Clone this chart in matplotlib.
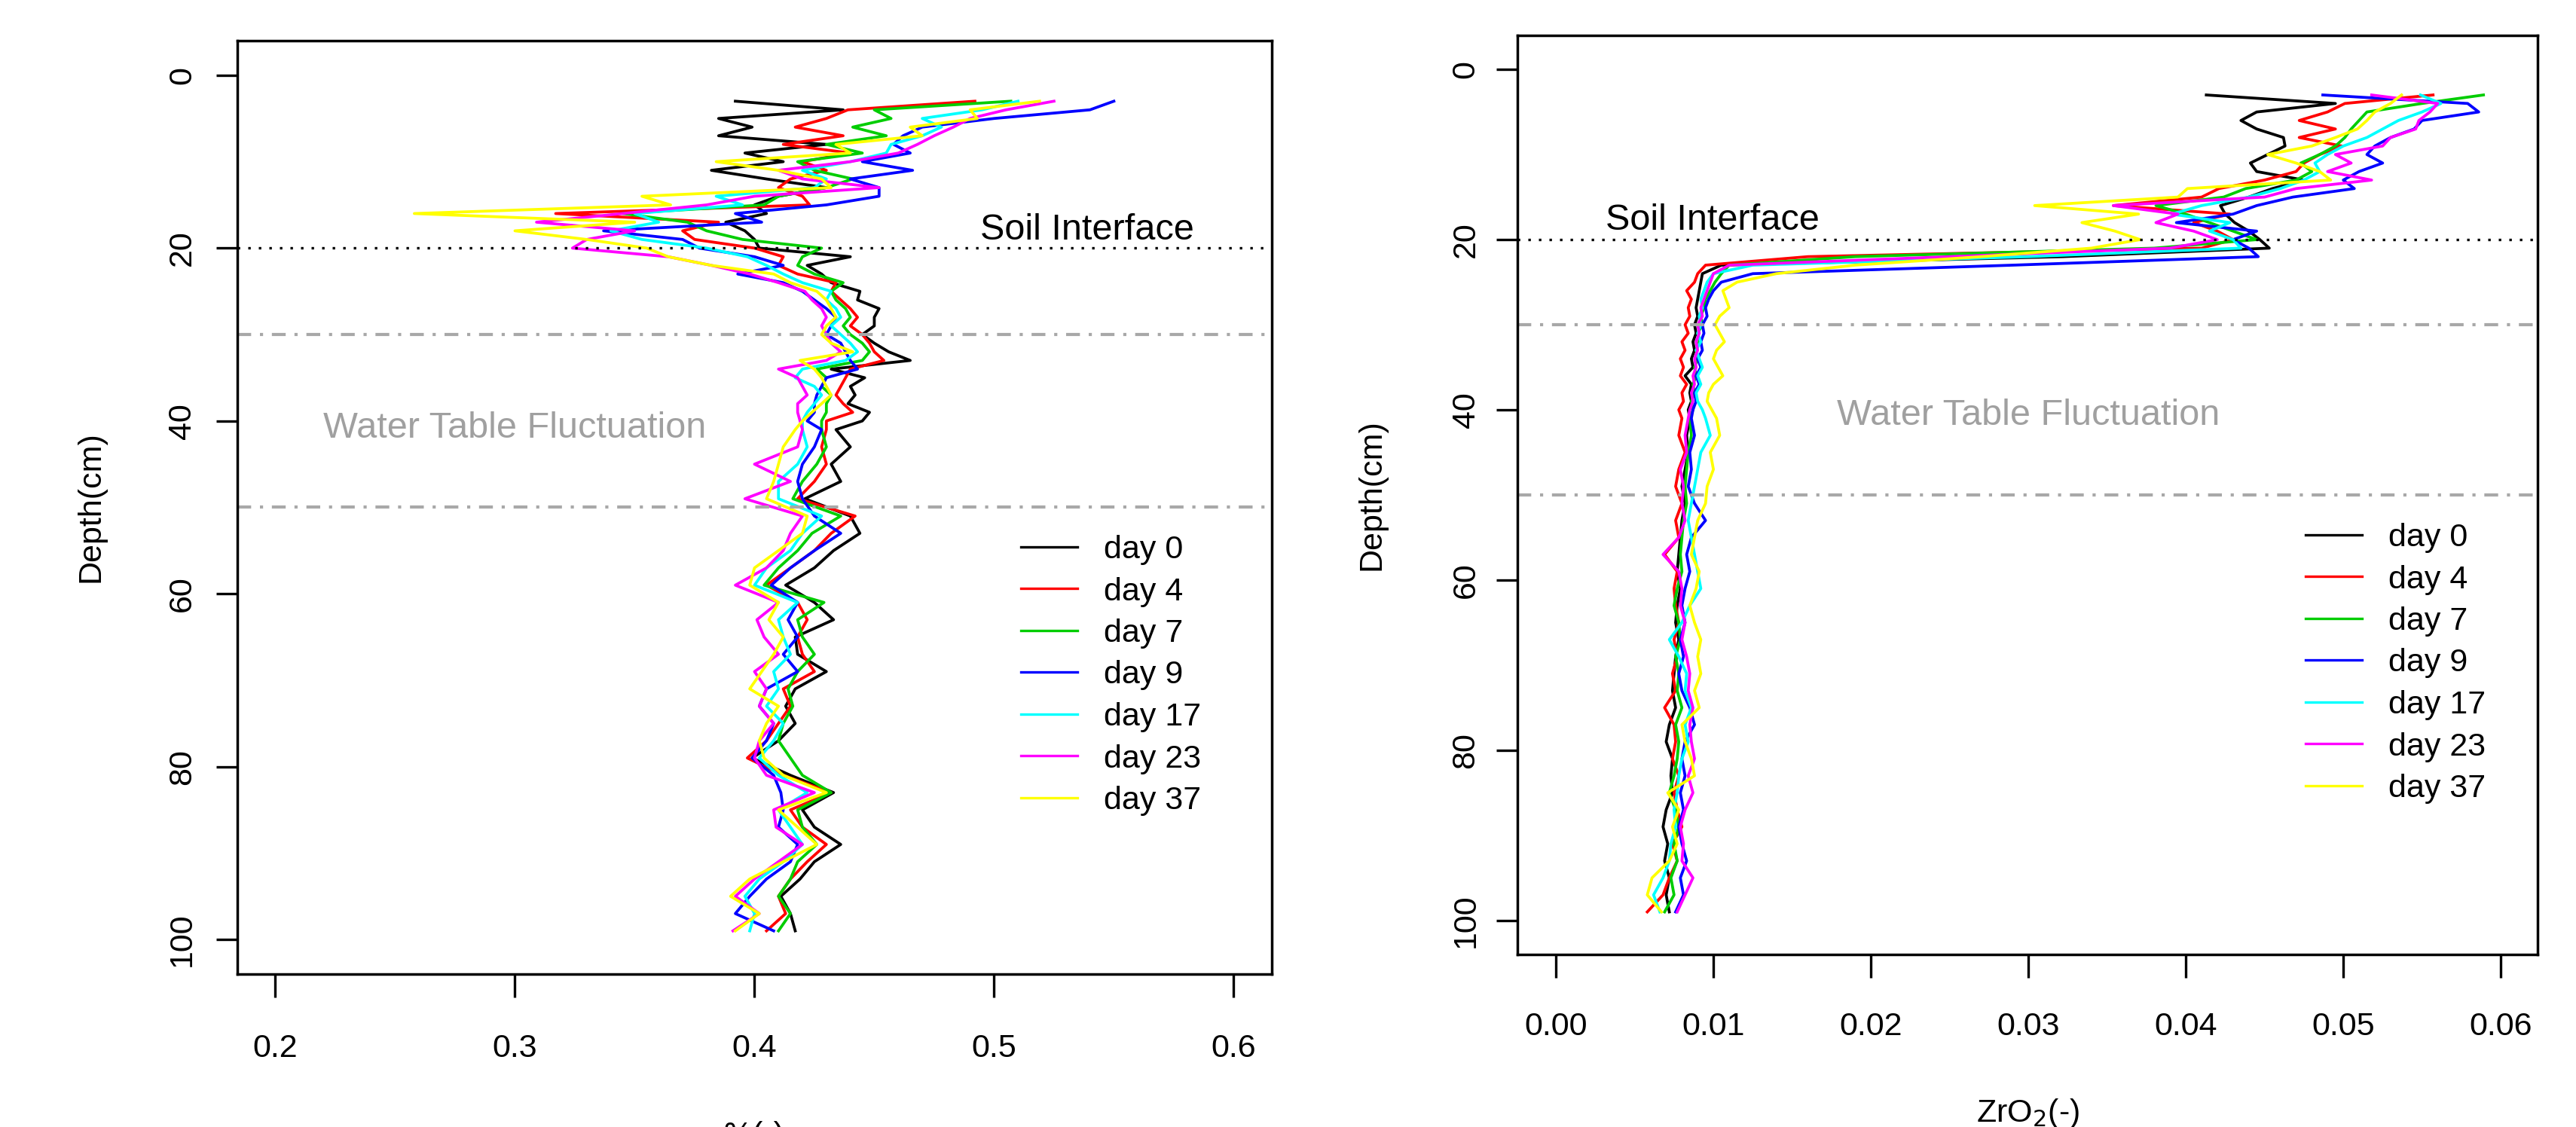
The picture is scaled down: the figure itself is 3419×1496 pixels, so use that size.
import matplotlib
matplotlib.use('Agg')
import matplotlib.pyplot as plt
from matplotlib.lines import Line2D

# depth profiles of soil moisture (left) and ZrO2 tracer (right) for several days

plt.rcParams['font.family'] = ['Liberation Sans', 'DejaVu Sans']

# depth grid (cm): 1 cm steps near the top, 2 cm below 40 cm
depth = [3, 4, 5, 6, 7, 8, 9, 10, 11, 12, 13, 14, 15, 16, 17, 18, 19, 20, 21, 22,
         23, 24, 25, 26, 27, 28, 29, 30, 31, 32, 33, 34, 35, 36, 37, 38, 39, 40,
         41, 43, 45, 47, 49, 51, 53, 55, 57, 59, 61, 63, 65, 67, 69, 71, 73, 75,
         77, 79, 81, 83, 85, 87, 89, 91, 93, 95, 97, 99]

days = ['day 0', 'day 4', 'day 7', 'day 9', 'day 17', 'day 23', 'day 37']
colours = ['black', '#FF0000', '#00CD00', '#0000FF', '#00FFFF', '#FF00FF', '#FFFF00']

# left panel: %(-)
moist_day0 = [0.392, 0.437, 0.385, 0.399, 0.385, 0.430, 0.396, 0.412, 0.382, 0.405, 0.430, 0.410, 0.400,
              0.405, 0.388, 0.396, 0.400, 0.402, 0.440, 0.422, 0.428, 0.432, 0.444, 0.443, 0.452, 0.450,
              0.450, 0.445, 0.450, 0.456, 0.465, 0.432, 0.446, 0.440, 0.442, 0.439, 0.448, 0.445,
              0.434, 0.440, 0.432, 0.436, 0.421, 0.440, 0.444, 0.433, 0.425, 0.413, 0.425, 0.433, 0.417,
              0.418, 0.430, 0.417, 0.413, 0.417, 0.410, 0.399, 0.415, 0.433, 0.420, 0.425, 0.436, 0.425,
              0.419, 0.411, 0.415, 0.417]
moist_day4 = [0.492, 0.439, 0.430, 0.417, 0.437, 0.412, 0.440, 0.420, 0.430, 0.415, 0.410, 0.420, 0.423,
              0.317, 0.385, 0.370, 0.375, 0.400, 0.412, 0.410, 0.418, 0.434, 0.432, 0.436, 0.440, 0.443,
              0.440, 0.445, 0.448, 0.450, 0.454, 0.440, 0.438, 0.436, 0.434, 0.437, 0.441, 0.430,
              0.430, 0.428, 0.430, 0.425, 0.418, 0.442, 0.432, 0.425, 0.415, 0.405, 0.418, 0.422, 0.418,
              0.420, 0.425, 0.412, 0.415, 0.410, 0.405, 0.397, 0.412, 0.432, 0.415, 0.420, 0.430, 0.422,
              0.415, 0.410, 0.413, 0.405]
moist_day7 = [0.507, 0.450, 0.457, 0.441, 0.455, 0.430, 0.445, 0.418, 0.425, 0.441, 0.430, 0.410, 0.404,
              0.345, 0.372, 0.380, 0.395, 0.428, 0.420, 0.418, 0.425, 0.437, 0.432, 0.434, 0.438, 0.440,
              0.437, 0.440, 0.445, 0.448, 0.445, 0.426, 0.430, 0.428, 0.432, 0.430, 0.430, 0.428,
              0.428, 0.430, 0.426, 0.420, 0.416, 0.436, 0.424, 0.418, 0.410, 0.404, 0.429, 0.418, 0.420,
              0.425, 0.418, 0.414, 0.416, 0.412, 0.410, 0.415, 0.420, 0.432, 0.418, 0.420, 0.426, 0.418,
              0.415, 0.410, 0.415, 0.410]
moist_day9 = [0.550, 0.540, 0.500, 0.470, 0.462, 0.458, 0.465, 0.445, 0.466, 0.440, 0.452, 0.452, 0.430,
              0.392, 0.403, 0.337, 0.370, 0.377, 0.400, 0.412, 0.393, 0.412, 0.420, 0.425, 0.430, 0.434,
              0.432, 0.430, 0.436, 0.438, 0.440, 0.443, 0.430, 0.428, 0.426, 0.425, 0.425, 0.422,
              0.428, 0.425, 0.420, 0.418, 0.420, 0.425, 0.436, 0.425, 0.415, 0.407, 0.418, 0.414, 0.418,
              0.412, 0.418, 0.405, 0.402, 0.408, 0.405, 0.399, 0.408, 0.411, 0.412, 0.410, 0.418, 0.415,
              0.405, 0.398, 0.392, 0.408]
moist_day17 = [0.510, 0.495, 0.470, 0.478, 0.470, 0.457, 0.455, 0.440, 0.420, 0.430, 0.425, 0.384, 0.395,
               0.350, 0.360, 0.340, 0.353, 0.380, 0.397, 0.405, 0.412, 0.420, 0.432, 0.430, 0.434, 0.436,
               0.432, 0.436, 0.440, 0.443, 0.438, 0.420, 0.417, 0.425, 0.428, 0.425, 0.422, 0.420,
               0.420, 0.422, 0.418, 0.410, 0.410, 0.428, 0.420, 0.415, 0.405, 0.400, 0.418, 0.410, 0.412,
               0.415, 0.408, 0.410, 0.405, 0.412, 0.408, 0.402, 0.410, 0.422, 0.410, 0.415, 0.420, 0.412,
               0.402, 0.396, 0.400, 0.398]
moist_day23 = [0.525, 0.505, 0.490, 0.483, 0.475, 0.468, 0.460, 0.440, 0.410, 0.420, 0.452, 0.400, 0.380,
               0.345, 0.309, 0.350, 0.330, 0.324, 0.364, 0.382, 0.398, 0.410, 0.421, 0.424, 0.428, 0.430,
               0.428, 0.430, 0.432, 0.436, 0.430, 0.410, 0.418, 0.420, 0.422, 0.418, 0.418, 0.419,
               0.420, 0.418, 0.400, 0.415, 0.396, 0.420, 0.415, 0.412, 0.405, 0.392, 0.410, 0.401, 0.404,
               0.410, 0.400, 0.405, 0.402, 0.408, 0.402, 0.400, 0.405, 0.425, 0.408, 0.409, 0.420, 0.410,
               0.400, 0.392, 0.402, 0.391]
moist_day37 = [0.519, 0.490, 0.493, 0.465, 0.470, 0.434, 0.440, 0.384, 0.410, 0.428, 0.432, 0.353, 0.365,
               0.258, 0.350, 0.300, 0.330, 0.355, 0.364, 0.382, 0.408, 0.415, 0.426, 0.430, 0.432, 0.434,
               0.430, 0.428, 0.432, 0.441, 0.419, 0.425, 0.428, 0.430, 0.432, 0.428, 0.424, 0.420,
               0.417, 0.412, 0.410, 0.408, 0.405, 0.422, 0.420, 0.410, 0.400, 0.398, 0.410, 0.406, 0.412,
               0.408, 0.403, 0.398, 0.410, 0.405, 0.402, 0.404, 0.412, 0.430, 0.410, 0.418, 0.426, 0.412,
               0.398, 0.390, 0.402, 0.392]

# right panel: ZrO2(-)
zr_day0 = [0.0413, 0.0495, 0.0445, 0.0435, 0.0445, 0.0462, 0.0463, 0.0452, 0.0441, 0.0445, 0.0475, 0.0455,
           0.0440, 0.0422, 0.0425, 0.0431, 0.0440, 0.0447, 0.0453, 0.0322, 0.0105, 0.0093, 0.0092, 0.0091,
           0.0090, 0.0089, 0.0090, 0.0088, 0.0089, 0.0087, 0.0088, 0.0086, 0.0087, 0.0082, 0.0086, 0.0085,
           0.0086, 0.0084,
           0.0085, 0.0083, 0.0084, 0.0082, 0.0080, 0.0082, 0.0080, 0.0079, 0.0078, 0.0077, 0.0079, 0.0077,
           0.0076, 0.0078, 0.0076, 0.0075, 0.0074, 0.0076, 0.0072, 0.0070, 0.0074, 0.0073, 0.0074, 0.0070,
           0.0068, 0.0071, 0.0069, 0.0072, 0.0070, 0.0072]
zr_day4 = [0.0557, 0.0501, 0.0490, 0.0472, 0.0495, 0.0472, 0.0499, 0.0485, 0.0475, 0.0470, 0.0450, 0.0421,
           0.0410, 0.0354, 0.0428, 0.0405, 0.0420, 0.0430, 0.0410, 0.0160, 0.0095, 0.0090, 0.0088, 0.0083,
           0.0086, 0.0084, 0.0085, 0.0082, 0.0084, 0.0080, 0.0082, 0.0079, 0.0081, 0.0079, 0.0083, 0.0080,
           0.0081, 0.0078,
           0.0080, 0.0078, 0.0082, 0.0078, 0.0076, 0.0080, 0.0076, 0.0078, 0.0069, 0.0077, 0.0075, 0.0076,
           0.0078, 0.0075, 0.0077, 0.0074, 0.0076, 0.0069, 0.0075, 0.0076, 0.0074, 0.0078, 0.0075, 0.0077,
           0.0080, 0.0074, 0.0077, 0.0072, 0.0068, 0.0058]
zr_day7 = [0.0589, 0.0550, 0.0515, 0.0510, 0.0505, 0.0501, 0.0495, 0.0485, 0.0473, 0.0480, 0.0470, 0.0438,
           0.0424, 0.0381, 0.0400, 0.0415, 0.0430, 0.0445, 0.0380, 0.0190, 0.0110, 0.0105, 0.0101, 0.0098,
           0.0095, 0.0094, 0.0092, 0.0093, 0.0090, 0.0091, 0.0089, 0.0090, 0.0088, 0.0089, 0.0087, 0.0088,
           0.0086, 0.0087,
           0.0085, 0.0086, 0.0084, 0.0083, 0.0082, 0.0083, 0.0081, 0.0080, 0.0079, 0.0080, 0.0077, 0.0075,
           0.0078, 0.0079, 0.0076, 0.0078, 0.0077, 0.0080, 0.0076, 0.0078, 0.0077, 0.0075, 0.0072, 0.0076,
           0.0078, 0.0075, 0.0077, 0.0073, 0.0075, 0.0069]
zr_day9 = [0.0487, 0.0579, 0.0586, 0.0550, 0.0545, 0.0530, 0.0520, 0.0515, 0.0525, 0.0510, 0.0500, 0.0507,
           0.0468, 0.0445, 0.0430, 0.0394, 0.0445, 0.0430, 0.0440, 0.0446, 0.0290, 0.0125, 0.0105, 0.0100,
           0.0097, 0.0095, 0.0096, 0.0093, 0.0094, 0.0092, 0.0093, 0.0090, 0.0092, 0.0089, 0.0091, 0.0088,
           0.0089, 0.0087,
           0.0086, 0.0088, 0.0085, 0.0086, 0.0084, 0.0088, 0.0095, 0.0086, 0.0083, 0.0085, 0.0082, 0.0080,
           0.0082, 0.0079, 0.0081, 0.0078, 0.0080, 0.0085, 0.0088, 0.0082, 0.0080, 0.0082, 0.0079, 0.0081,
           0.0078, 0.0080, 0.0083, 0.0079, 0.0081, 0.0076]
zr_day17 = [0.0549, 0.0562, 0.0550, 0.0535, 0.0525, 0.0515, 0.0500, 0.0490, 0.0482, 0.0485, 0.0475, 0.0460,
            0.0440, 0.0410, 0.0391, 0.0428, 0.0415, 0.0430, 0.0435, 0.0300, 0.0125, 0.0100, 0.0096, 0.0094,
            0.0092, 0.0093, 0.0091, 0.0092, 0.0090, 0.0092, 0.0089, 0.0091, 0.0093, 0.0090, 0.0092, 0.0089,
            0.0090, 0.0093,
            0.0095, 0.0098, 0.0092, 0.0090, 0.0088, 0.0086, 0.0084, 0.0086, 0.0088, 0.0090, 0.0092, 0.0085,
            0.0080, 0.0072, 0.0078, 0.0083, 0.0082, 0.0086, 0.0082, 0.0084, 0.0080, 0.0078, 0.0077, 0.0075,
            0.0076, 0.0073, 0.0072, 0.0068, 0.0062, 0.0066]
zr_day23 = [0.0518, 0.0560, 0.0555, 0.0548, 0.0546, 0.0530, 0.0525, 0.0495, 0.0505, 0.0490, 0.0518, 0.0470,
            0.0450, 0.0354, 0.0395, 0.0381, 0.0405, 0.0420, 0.0390, 0.0250, 0.0110, 0.0100, 0.0098, 0.0096,
            0.0094, 0.0092, 0.0093, 0.0090, 0.0091, 0.0089, 0.0090, 0.0088, 0.0089, 0.0087, 0.0088, 0.0086,
            0.0087, 0.0085,
            0.0084, 0.0082, 0.0083, 0.0079, 0.0081, 0.0080, 0.0082, 0.0078, 0.0068, 0.0078, 0.0080, 0.0079,
            0.0082, 0.0080, 0.0083, 0.0085, 0.0084, 0.0087, 0.0085, 0.0086, 0.0088, 0.0084, 0.0087, 0.0082,
            0.0079, 0.0081, 0.0080, 0.0087, 0.0082, 0.0077]
zr_day37 = [0.0537, 0.0530, 0.0520, 0.0515, 0.0509, 0.0495, 0.0480, 0.0452, 0.0470, 0.0485, 0.0492, 0.0401,
            0.0395, 0.0304, 0.0370, 0.0334, 0.0355, 0.0371, 0.0340, 0.0270, 0.0190, 0.0140, 0.0115, 0.0106,
            0.0108, 0.0110, 0.0104, 0.0101, 0.0104, 0.0107, 0.0102, 0.0100, 0.0103, 0.0106, 0.0100, 0.0097,
            0.0096, 0.0099,
            0.0102, 0.0104, 0.0098, 0.0100, 0.0096, 0.0095, 0.0090, 0.0088, 0.0086, 0.0091, 0.0089, 0.0085,
            0.0088, 0.0092, 0.0090, 0.0092, 0.0088, 0.0091, 0.0080, 0.0082, 0.0086, 0.0088, 0.0071, 0.0078,
            0.0074, 0.0077, 0.0072, 0.0061, 0.0058, 0.0067]

moist = [moist_day0, moist_day4, moist_day7, moist_day9, moist_day17, moist_day23, moist_day37]
zr = [zr_day0, zr_day4, zr_day7, zr_day9, zr_day17, zr_day23, zr_day37]

soil_interface = 20
water_table = [30, 50]
grey = '#A8A8A8'
fs = 31
lw_data = 2.7


def style_axes(ax, xticks, xfmt, xpad, ypad):
    for s in ax.spines.values():
        s.set_linewidth(2.5)
    ax.set_xticks(xticks)
    ax.set_xticklabels([xfmt % t for t in xticks])
    ax.set_yticks([0, 20, 40, 60, 80, 100])
    ax.tick_params(axis='x', direction='out', length=22, width=2.4, labelsize=fs, pad=xpad)
    ax.tick_params(axis='y', direction='out', length=20, width=2.4, labelsize=fs, pad=ypad)
    plt.setp(ax.get_yticklabels(), rotation=90, va='center')


fig = plt.figure(figsize=(34.19, 14.96), dpi=100)

ax1 = fig.add_axes([0.0921, 0.1357, 0.4016, 0.8282])
for vals, c in zip(moist, colours):
    ax1.plot(vals, depth, color=c, lw=lw_data)
ax1.axhline(soil_interface, color='black', lw=2.4, ls=(0, (1, 3.2)))
for wt in water_table:
    ax1.axhline(wt, color=grey, lw=3.0, ls=(0, (4.4, 2.8, 1.0, 2.8)))
ax1.set_xlim(0.1841, 0.6159)
ax1.set_ylim(104, -4)
style_axes(ax1, [0.2, 0.3, 0.4, 0.5, 0.6], '%.1f', 35, 18)
ax1.text(0.5388, 19.0, 'Soil Interface', fontsize=35, ha='center', va='baseline')
ax1.text(0.300, 41.9, 'Water Table Fluctuation', fontsize=35, color='#A0A0A0', ha='center', va='baseline')

ax2 = fig.add_axes([0.5891, 0.1531, 0.3960, 0.8155])
for vals, c in zip(zr, colours):
    ax2.plot(vals, depth, color=c, lw=lw_data)
ax2.axhline(soil_interface, color='black', lw=2.4, ls=(0, (1, 3.2)))
for wt in water_table:
    ax2.axhline(wt, color=grey, lw=3.0, ls=(0, (4.4, 2.8, 1.0, 2.8)))
ax2.set_xlim(-0.00244, 0.06234)
ax2.set_ylim(104, -4)
style_axes(ax2, [0.0, 0.01, 0.02, 0.03, 0.04, 0.05, 0.06], '%.2f', 33, 15)
ax2.text(0.00995, 18.85, 'Soil Interface', fontsize=35, ha='center', va='baseline')
ax2.text(0.030, 41.8, 'Water Table Fluctuation', fontsize=35, color='#A0A0A0', ha='center', va='baseline')

# legends
handles = [Line2D([], [], color=c, lw=2.4) for c in colours]
for ax, lx, ly in [(ax1, 1355, 710), (ax2, 3060, 694)]:
    ax.legend(handles, days, loc='upper left', bbox_to_anchor=(lx / 3419, 1 - ly / 1496),
              bbox_transform=fig.transFigure, frameon=False, fontsize=fs, handlelength=1.75,
              handletextpad=0.8, labelspacing=0.36, borderpad=0, borderaxespad=0)

# axis labels
fig.text(120 / 3419, 1 - 673 / 1496, 'Depth(cm)', rotation=90, fontsize=fs, ha='center', va='center')
fig.text(1821 / 3419, 1 - 657 / 1496, 'Depth(cm)', rotation=90, fontsize=fs, ha='center', va='center')
fig.text(1001 / 3419, 1 - 1519 / 1496, '%(-)', fontsize=fs, ha='center', va='baseline')
fig.text(2691 / 3419, 1 - 1489 / 1496, 'ZrO$_2$(-)', fontsize=fs, ha='center', va='baseline')

fig.savefig('out.png', dpi=100, facecolor='white')
